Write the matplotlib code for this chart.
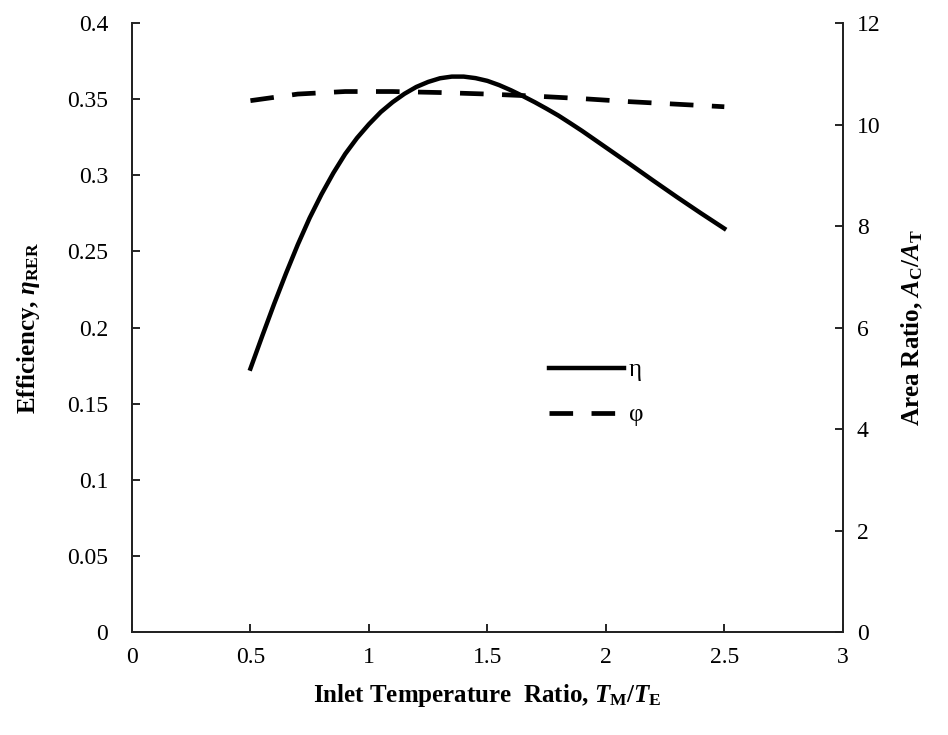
import matplotlib.pyplot as plt

# fontes estilo Times
plt.rcParams['font.family'] = 'Liberation Serif'
plt.rcParams['mathtext.fontset'] = 'custom'
plt.rcParams['mathtext.rm'] = 'Liberation Serif:bold'
plt.rcParams['mathtext.it'] = 'Liberation Serif:bold:italic'
plt.rcParams['mathtext.bf'] = 'Liberation Serif:bold'

# dados
razao_temp = [0.5, 0.55, 0.6, 0.65, 0.7, 0.75, 0.8, 0.85, 0.9, 0.95, 1.0, 1.05, 1.1,
              1.15, 1.2, 1.25, 1.3, 1.35, 1.4, 1.45, 1.5, 1.55, 1.6, 1.65, 1.7, 1.75,
              1.8, 1.85, 1.9, 2.0, 2.1, 2.2, 2.3, 2.4, 2.5]
eficiencia = [0.173, 0.1945, 0.2155, 0.2355, 0.2545, 0.272, 0.2875, 0.3015, 0.314,
              0.3245, 0.3335, 0.3415, 0.348, 0.3535, 0.358, 0.3613, 0.3637, 0.3648,
              0.3648, 0.3638, 0.362, 0.3592, 0.3558, 0.352, 0.348, 0.3437, 0.3392,
              0.3342, 0.3291, 0.3183, 0.3075, 0.2965, 0.2857, 0.2752, 0.265]
razao_temp_phi = [0.5, 0.7, 0.9, 1.1, 1.3, 1.5, 1.7, 1.9, 2.1, 2.3, 2.5]
razao_area = [10.47, 10.6, 10.65, 10.65, 10.63, 10.6, 10.56, 10.51, 10.45, 10.4, 10.35]

fig = plt.figure(figsize=(9.48, 7.35), dpi=100)
ax = fig.add_axes([0.1392, 0.1401, 0.7498, 0.8286])
ax2 = ax.twinx()

l1, = ax.plot(razao_temp, eficiencia, color='black', lw=3.2, label='η')
l2, = ax2.plot(razao_temp_phi, razao_area, color='black', lw=3.4, dashes=(5.0, 3.9),
               label='φ')

ax.set_xlim(0, 3)
ax.set_ylim(0, 0.4)
ax2.set_ylim(0, 12)
ax.set_xticks([0, 0.5, 1, 1.5, 2, 2.5, 3])
ax.set_xticklabels(['0', '0.5', '1', '1.5', '2', '2.5', '3'])
ax.set_yticks([0, 0.05, 0.1, 0.15, 0.2, 0.25, 0.3, 0.35, 0.4])
ax.set_yticklabels(['0', '0.05', '0.1', '0.15', '0.2', '0.25', '0.3', '0.35', '0.4'])
ax2.set_yticks([0, 2, 4, 6, 8, 10, 12])

for a in (ax, ax2):
    a.spines['top'].set_visible(False)
    for s in a.spines.values():
        s.set_linewidth(1.3)
        s.set_color('#222222')
ax.tick_params(axis='y', direction='in', length=6, width=1.2, labelsize=17, pad=17)
ax.tick_params(axis='x', direction='in', length=6, width=1.2, labelsize=17, pad=11)
ax2.tick_params(axis='y', direction='in', length=6, width=1.2, labelsize=17, pad=10)

ax.set_xlabel(r'Inlet Temperature  Ratio, $T_{\mathrm{M}}/T_{\mathrm{E}}$',
              fontsize=18, fontweight='bold', labelpad=10)
ax.set_ylabel(r'Efficiency, $\eta_{\mathrm{RER}}$', fontsize=18, fontweight='bold',
              labelpad=18)
ax2.set_ylabel(r'Area Ratio, $A_{\mathrm{C}}/A_{\mathrm{T}}$', fontsize=18,
               fontweight='bold', labelpad=14)

ax.legend(handles=[l1, l2], loc='center left', bbox_to_anchor=(0.555, 0.393),
          frameon=False, fontsize=18, handlelength=3.0, handletextpad=0.2,
          labelspacing=0.9)

fig.savefig('out.png', dpi=100)
